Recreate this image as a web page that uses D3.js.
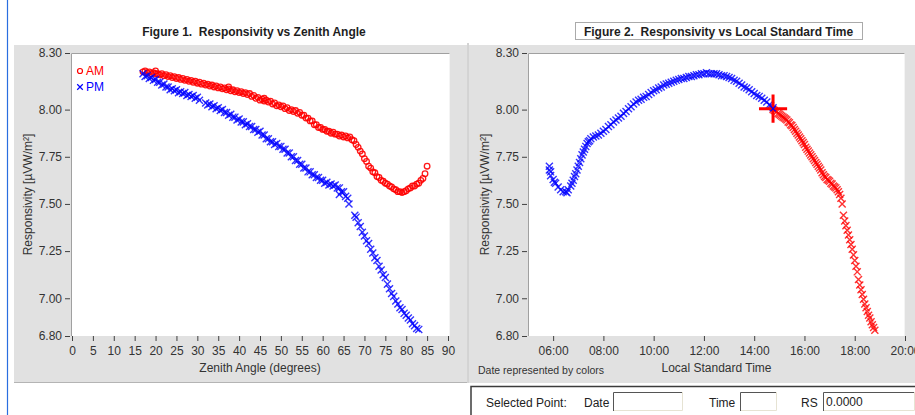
<!DOCTYPE html>
<html>
<head>
<meta charset="utf-8">
<script src="https://cdn.jsdelivr.net/npm/d3@7"></script>
<style>
  body { margin: 0; background: #fff; }
  svg text { font-family: "Liberation Sans", Arial, sans-serif; }
</style>
</head>
<body>
<svg id="chart" width="915" height="415"></svg>
<script>
// ---- data ----
// Figure 1: [zenith angle (deg), responsivity]
const amPoints = [
  [17, 8.20], [18, 8.195], [19, 8.19], [20, 8.19], [21, 8.185], [22, 8.18], [23, 8.175],
  [24, 8.17], [25, 8.165], [26, 8.16], [27, 8.155], [28, 8.15], [29, 8.145], [30, 8.14],
  [31, 8.135], [32, 8.13], [33, 8.125], [34, 8.12], [35, 8.115], [36, 8.11], [37, 8.105],
  [38, 8.10], [39, 8.095], [40, 8.09], [41, 8.085], [42, 8.08], [43, 8.07], [44, 8.06],
  [45, 8.05], [46, 8.045], [47, 8.04], [48, 8.03], [49, 8.02], [50, 8.015], [51, 8.005],
  [52, 7.995], [53, 7.99], [54, 7.98], [55, 7.97], [56, 7.955], [57, 7.94], [58, 7.92],
  [59, 7.905], [60, 7.895], [61, 7.885], [62, 7.875], [63, 7.87], [64, 7.86], [65, 7.855],
  [66, 7.85], [67, 7.84], [68, 7.815], [69, 7.78], [70, 7.74], [71, 7.70], [72, 7.67],
  [73, 7.645], [74, 7.625], [75, 7.61], [76, 7.595], [77, 7.58], [78, 7.565], [79, 7.56],
  [80, 7.57], [81, 7.585], [82, 7.595], [83, 7.61], [84, 7.635], [85, 7.70],
  // upper edge of the band
  [17.5, 8.205], [18.5, 8.20], [19.5, 8.195], [20.5, 8.19], [21.5, 8.19], [22.5, 8.185],
  [23.5, 8.18], [24.5, 8.175], [25.5, 8.17], [26.5, 8.165], [27.5, 8.16], [28.5, 8.155],
  [29.5, 8.15], [30.5, 8.145], [31.5, 8.14], [32.5, 8.135], [33.5, 8.13], [34.5, 8.125],
  [35.5, 8.12], [36.5, 8.115], [37.5, 8.11], [38.5, 8.105], [39.5, 8.10], [40.5, 8.095],
  [41.5, 8.09], [42.5, 8.085], [43.5, 8.075], [44.5, 8.065], [45.5, 8.055], [46.5, 8.05],
  [47.5, 8.045], [48.5, 8.035], [49.5, 8.025], [50.5, 8.02], [51.5, 8.01], [52.5, 8.00],
  [53.5, 7.995], [54.5, 7.985], [55.5, 7.97], [56.5, 7.955], [57.5, 7.94], [58.5, 7.92],
  [59.5, 7.905], [60.5, 7.895], [61.5, 7.885], [62.5, 7.88], [63.5, 7.87], [64.5, 7.865],
  [65.5, 7.86], [66.5, 7.855], [67.5, 7.835], [68.5, 7.80], [69.5, 7.765], [70.5, 7.725],
  [71.5, 7.69], [72.5, 7.665], [73.5, 7.64], [74.5, 7.62], [75.5, 7.605], [76.5, 7.59],
  [77.5, 7.575], [78.5, 7.565], [79.5, 7.565], [80.5, 7.58], [81.5, 7.595], [82.5, 7.605],
  [83.5, 7.625], [84.5, 7.66], [20, 8.205], [37.5, 8.12], [46, 8.06]
];
const pmPoints = [
  [17, 8.19], [18, 8.18], [19, 8.17], [20, 8.16], [21, 8.145], [22, 8.135], [23, 8.12],
  [24, 8.11], [25, 8.105], [26, 8.095], [27, 8.09], [28, 8.08], [29, 8.075], [30, 8.065],
  [32, 8.035], [33, 8.03], [34, 8.02], [35, 8.01], [36, 8.00], [37, 7.985], [38, 7.975],
  [39, 7.96], [40, 7.95], [41, 7.935], [42, 7.925], [43, 7.91], [44, 7.895], [45, 7.885],
  [46, 7.865], [47, 7.845], [48, 7.83], [49, 7.82], [50, 7.805], [51, 7.79], [52, 7.77],
  [53, 7.75], [54, 7.73], [55, 7.71], [56, 7.69], [57, 7.67], [58, 7.655], [59, 7.64],
  [60, 7.625], [61, 7.615], [62, 7.605], [63, 7.60], [64, 7.585], [65, 7.565], [66, 7.53],
  [67.7, 7.44], [68, 7.43], [69, 7.38], [70, 7.33], [71, 7.29], [72, 7.24], [73, 7.20],
  [74, 7.15], [75, 7.11], [76, 7.05], [77, 7.01], [78, 6.97], [79, 6.94], [80, 6.91],
  [81, 6.885], [82, 6.855], [83, 6.835],
  // lower edge of the band
  [17.5, 8.175], [18.5, 8.165], [19.5, 8.155], [20.5, 8.145], [21.5, 8.13], [22.5, 8.12],
  [23.5, 8.105], [24.5, 8.10], [25.5, 8.09], [26.5, 8.085], [27.5, 8.075], [28.5, 8.07],
  [29.5, 8.06], [30.5, 8.05], [32.5, 8.025], [33.5, 8.015], [34.5, 8.005], [35.5, 7.995],
  [36.5, 7.985], [37.5, 7.97], [38.5, 7.96], [39.5, 7.945], [40.5, 7.935], [41.5, 7.92],
  [42.5, 7.91], [43.5, 7.895], [44.5, 7.88], [45.5, 7.865], [46.5, 7.845], [47.5, 7.83],
  [48.5, 7.815], [49.5, 7.805], [50.5, 7.79], [51.5, 7.77], [52.5, 7.75], [53.5, 7.73],
  [54.5, 7.71], [55.5, 7.69], [56.5, 7.67], [57.5, 7.655], [58.5, 7.64], [59.5, 7.625],
  [60.5, 7.61], [61.5, 7.60], [62.5, 7.595], [63.5, 7.585], [64.5, 7.565], [65.5, 7.54],
  [66.3, 7.50], [68.5, 7.40], [69.5, 7.35], [70.5, 7.305], [71.5, 7.26], [72.5, 7.215],
  [73.5, 7.17], [74.5, 7.125], [75.5, 7.075], [76.5, 7.025], [77.5, 6.985], [78.5, 6.95],
  [79.5, 6.92], [80.5, 6.895], [81.5, 6.865], [82.5, 6.84], [64, 7.55]
];

// Figure 2: [hour of day, responsivity]
const morningPoints = [
  [5.85, 7.70], [5.9, 7.67], [6.0, 7.63], [6.1, 7.61], [6.2, 7.59], [6.3, 7.575], [6.4, 7.565],
  [6.5, 7.565], [6.6, 7.575], [6.7, 7.595], [6.8, 7.625], [6.9, 7.66], [7.0, 7.70], [7.1, 7.74],
  [7.2, 7.775], [7.3, 7.805], [7.4, 7.83], [7.5, 7.845], [7.6, 7.855], [7.8, 7.865], [8.0, 7.885],
  [8.2, 7.91], [8.4, 7.935], [8.6, 7.955], [8.8, 7.98], [9.0, 8.005], [9.2, 8.03], [9.4, 8.05],
  [9.6, 8.065], [9.8, 8.08], [10.0, 8.10], [10.2, 8.115], [10.4, 8.13], [10.6, 8.14], [10.8, 8.15],
  [11.0, 8.16], [11.2, 8.165], [11.4, 8.175], [11.6, 8.18], [11.8, 8.185], [12.0, 8.19], [12.2, 8.19],
  [12.4, 8.19], [12.6, 8.185], [12.8, 8.18], [13.0, 8.17], [13.2, 8.155], [13.4, 8.14], [13.6, 8.12],
  [13.8, 8.105], [14.0, 8.085], [14.2, 8.07], [14.4, 8.05], [14.6, 8.025], [14.75, 8.01],
  // in-between readings
  [5.85, 7.68], [5.9, 7.65], [6.05, 7.615], [6.55, 7.56], [6.75, 7.61], [6.85, 7.645],
  [6.95, 7.68], [7.05, 7.72], [7.15, 7.76], [7.25, 7.79], [7.35, 7.82], [7.45, 7.835],
  [7.7, 7.86], [7.9, 7.875], [8.1, 7.895], [8.3, 7.92], [8.5, 7.945], [8.7, 7.965],
  [8.9, 7.99], [9.1, 8.015], [9.3, 8.04], [9.5, 8.055], [9.7, 8.07], [9.9, 8.09],
  [10.1, 8.105], [10.3, 8.12], [10.5, 8.135], [10.7, 8.145], [10.9, 8.155], [11.1, 8.165],
  [11.3, 8.17], [11.5, 8.175], [11.7, 8.185], [11.9, 8.19], [12.1, 8.195], [12.3, 8.19],
  [12.5, 8.19], [12.7, 8.18], [12.9, 8.175], [13.1, 8.165], [13.3, 8.15], [13.5, 8.13],
  [13.7, 8.115], [13.9, 8.095], [14.1, 8.075], [14.3, 8.06], [14.5, 8.04], [14.65, 8.02]
];
const afternoonPoints = [
  [14.75, 8.00], [14.9, 7.99], [15.0, 7.975], [15.1, 7.965], [15.2, 7.955], [15.3, 7.945],
  [15.4, 7.93], [15.5, 7.915], [15.6, 7.895], [15.7, 7.875], [15.8, 7.855], [15.9, 7.835],
  [16.0, 7.815], [16.1, 7.79], [16.2, 7.77], [16.3, 7.75], [16.4, 7.73], [16.5, 7.71],
  [16.6, 7.69], [16.7, 7.665], [16.8, 7.645], [16.9, 7.63], [17.0, 7.62], [17.1, 7.605],
  [17.2, 7.59], [17.3, 7.575], [17.4, 7.55], [17.5, 7.50], [17.55, 7.44], [17.6, 7.41],
  [17.7, 7.36], [17.8, 7.31], [17.9, 7.26], [18.0, 7.20], [18.1, 7.14], [18.2, 7.07],
  [18.3, 7.02], [18.4, 6.97], [18.5, 6.93], [18.6, 6.895], [18.7, 6.86], [18.8, 6.83],
  // in-between readings
  [14.8, 7.995], [14.95, 7.98], [15.05, 7.97], [15.15, 7.96], [15.25, 7.95], [15.35, 7.935],
  [15.45, 7.92], [15.55, 7.905], [15.65, 7.885], [15.75, 7.865], [15.85, 7.845], [15.95, 7.825],
  [16.05, 7.80], [16.15, 7.78], [16.25, 7.76], [16.35, 7.74], [16.45, 7.72], [16.55, 7.70],
  [16.65, 7.68], [16.75, 7.655], [16.85, 7.64], [16.95, 7.625], [17.05, 7.61], [17.15, 7.595],
  [17.25, 7.585], [17.35, 7.565], [17.45, 7.53], [17.65, 7.385], [17.75, 7.335], [17.85, 7.285],
  [17.95, 7.23], [18.05, 7.17], [18.15, 7.10], [18.25, 7.045], [18.35, 6.995], [18.45, 6.95],
  [18.55, 6.91], [18.65, 6.875], [18.75, 6.845]
];
const selectedPoint = [14.75, 8.005];

const respTicks = [6.80, 7.00, 7.25, 7.50, 7.75, 8.00, 8.30];
const angleTicks = [0, 5, 10, 15, 20, 25, 30, 35, 40, 45, 50, 55, 60, 65, 70, 75, 80, 85, 90];
const hourTicks = [6, 8, 10, 12, 14, 16, 18, 20];
const yLabel = "Responsivity [µVW/m²]";

const RED = "#ff0000", BLUE = "#0000ff";

const svg = d3.select("#chart");

// blue edge line of the window on the left
svg.append("line").attr("x1", 7.5).attr("x2", 7.5).attr("y1", 0).attr("y2", 415)
    .attr("stroke", "#2a6ee0").attr("stroke-width", 1.2);

// gray panel backgrounds
svg.append("rect").attr("x", 14).attr("y", 45).attr("width", 453).attr("height", 337).attr("fill", "#e1e1e1");
svg.append("line").attr("x1", 14).attr("x2", 467).attr("y1", 382.5).attr("y2", 382.5).attr("stroke", "#b4b4b4");
svg.append("rect").attr("x", 469).attr("y", 45).attr("width", 446).attr("height", 338).attr("fill", "#e1e1e1");
svg.append("line").attr("x1", 468).attr("x2", 468).attr("y1", 43).attr("y2", 383).attr("stroke", "#a8a8a8");

class ScatterPanel {
    constructor(_config) {
        this.config = _config;
        this.initVis();
    }

    initVis() {
        let vis = this;
        let c = vis.config;

        vis.xScale = d3.scaleLinear().domain(c.xDomain).range(c.xRange);
        vis.yScale = d3.scaleLinear().domain([6.80, 8.30]).range([336, 53]);

        // white plot area with sunken frame
        svg.append("rect").attr("x", c.plotLeft).attr("y", 53)
            .attr("width", c.plotRight - c.plotLeft).attr("height", 283).attr("fill", "#fff");
        svg.append("path")
            .attr("d", `M${c.plotLeft + 0.5},336V53.5H${c.plotRight}`)
            .attr("fill", "none").attr("stroke", "#a0a0a0");
        svg.append("path")
            .attr("d", `M${c.plotRight - 0.5},53.5V336`)
            .attr("fill", "none").attr("stroke", "#f4f4f4");

        // axes
        let xAxis = d3.axisBottom(vis.xScale).tickValues(c.xTicks).tickFormat(c.xFormat)
            .tickSize(5).tickSizeOuter(0).tickPadding(5);
        let xg = svg.append("g").attr("transform", "translate(0,336)").call(xAxis);

        let yAxis = d3.axisLeft(vis.yScale).tickValues(respTicks).tickFormat(d3.format(".2f"))
            .tickSize(5).tickSizeOuter(0).tickPadding(3);
        let yg = svg.append("g").attr("transform", `translate(${c.plotLeft - 1},0)`).call(yAxis);

        [xg, yg].forEach(g => {
            g.select(".domain").remove();
            g.selectAll(".tick line").attr("stroke", "#404040");
            g.selectAll(".tick text").attr("fill", "#333").style("font-size", "12px");
        });

        // titles
        svg.append("text").attr("x", c.titleX).attr("y", 36).attr("text-anchor", "middle")
            .attr("xml:space", "preserve")
            .style("font-size", "12px").style("font-weight", "bold").attr("fill", "#1e1e1e")
            .text(c.title);
        svg.append("text").attr("x", (c.xRange[0] + c.xRange[1]) / 2).attr("y", 372)
            .attr("text-anchor", "middle").style("font-size", "12px").attr("fill", "#333")
            .text(c.xTitle);
        svg.append("text")
            .attr("transform", `translate(${c.yTitleX},194.5) rotate(-90)`)
            .attr("text-anchor", "middle").style("font-size", "12px").attr("fill", "#333")
            .text(yLabel);

        vis.plot = svg.append("g");
    }

    circles(data, color) {
        let vis = this;
        vis.plot.append("g").selectAll("circle").data(data).join("circle")
            .attr("cx", d => vis.xScale(d[0]))
            .attr("cy", d => vis.yScale(d[1]))
            .attr("r", 2.8)
            .attr("fill", "none").attr("stroke", color).attr("stroke-width", 1.3)
            .attr("stroke-opacity", 0.9);
    }

    crosses(data, color) {
        let vis = this;
        vis.plot.append("g").selectAll("path").data(data).join("path")
            .attr("transform", d => `translate(${vis.xScale(d[0])},${vis.yScale(d[1])})`)
            .attr("d", d3.symbol(d3.symbolTimes, 34))
            .attr("fill", "none").attr("stroke", color).attr("stroke-width", 1.4)
            .attr("stroke-opacity", 0.8);
    }
}

// ---- Figure 1 ----
const fig1 = new ScatterPanel({
    xDomain: [0, 90], xRange: [72, 448], plotLeft: 71, plotRight: 450,
    xTicks: angleTicks, xFormat: d3.format("d"),
    title: "Figure 1.  Responsivity vs Zenith Angle", titleX: 254,
    xTitle: "Zenith Angle (degrees)", yTitleX: 32
});
fig1.circles(amPoints, RED);
fig1.crosses(pmPoints, BLUE);

// legend
const leg = svg.append("g").style("font-size", "12px");
leg.append("circle").attr("cx", 80).attr("cy", 71).attr("r", 2.5)
    .attr("fill", "none").attr("stroke", RED).attr("stroke-width", 1.2);
leg.append("text").attr("x", 86).attr("y", 75).attr("fill", RED).text("AM");
leg.append("path").attr("transform", "translate(80,87)").attr("d", d3.symbol(d3.symbolTimes, 22))
    .attr("fill", "none").attr("stroke", BLUE).attr("stroke-width", 1.2);
leg.append("text").attr("x", 86).attr("y", 91).attr("fill", BLUE).text("PM");

// ---- Figure 2 ----
const fig2 = new ScatterPanel({
    xDomain: [5, 20], xRange: [528, 905], plotLeft: 528, plotRight: 905,
    xTicks: hourTicks, xFormat: d => String(d).padStart(2, "0") + ":00",
    title: "Figure 2.  Responsivity vs Local Standard Time", titleX: 718.5,
    xTitle: "Local Standard Time", yTitleX: 489
});
fig2.crosses(morningPoints, BLUE);
fig2.crosses(afternoonPoints, RED);

// selected point marker
fig2.plot.append("path")
    .attr("transform", `translate(${fig2.xScale(selectedPoint[0])},${fig2.yScale(selectedPoint[1])})`)
    .attr("d", d3.symbol(d3.symbolPlus, 260))
    .attr("fill", "none").attr("stroke", RED).attr("stroke-width", 3);
fig2.plot.append("path")
    .attr("transform", `translate(${fig2.xScale(selectedPoint[0])},${fig2.yScale(selectedPoint[1])})`)
    .attr("d", d3.symbol(d3.symbolTimes, 20))
    .attr("fill", "none").attr("stroke", BLUE).attr("stroke-width", 1.2);

// dotted focus box round the second title
svg.append("rect").attr("x", 575.5).attr("y", 22.5).attr("width", 287).attr("height", 17)
    .attr("fill", "none").attr("stroke", "#555").attr("stroke-dasharray", "1,1");

svg.append("text").attr("x", 478).attr("y", 374).style("font-size", "10.5px").attr("fill", "#333")
    .text("Date represented by colors");

// ---- selected point box ----
svg.append("path").attr("d", "M471,415V386.5H915").attr("fill", "none")
    .attr("stroke", "#3c3c3c").attr("stroke-width", 1.5);

const fields = [
    { label: "Date", lx: 584, bx: 613, bw: 70, value: "" },
    { label: "Time", lx: 709, bx: 740, bw: 37, value: "" },
    { label: "RS", lx: 801, bx: 823, bw: 92, value: "0.0000" }
];
const panel = svg.append("g").style("font-size", "12px").attr("fill", "#222");
panel.append("text").attr("x", 486).attr("y", 407).text("Selected Point:");
fields.forEach(f => {
    panel.append("text").attr("x", f.lx).attr("y", 407).text(f.label);
    panel.append("rect").attr("x", f.bx).attr("y", 392).attr("width", f.bw).attr("height", 19).attr("fill", "#fff");
    panel.append("path").attr("d", `M${f.bx + 0.5},411V392.5H${f.bx + f.bw}`)
        .attr("fill", "none").attr("stroke", "#555");
    panel.append("path").attr("d", `M${f.bx + 1},410.5H${f.bx + f.bw - 0.5}V392`)
        .attr("fill", "none").attr("stroke", "#e6e3d3");
    panel.append("text").attr("x", f.bx + 3).attr("y", 406).text(f.value);
});
</script>
</body>
</html>
